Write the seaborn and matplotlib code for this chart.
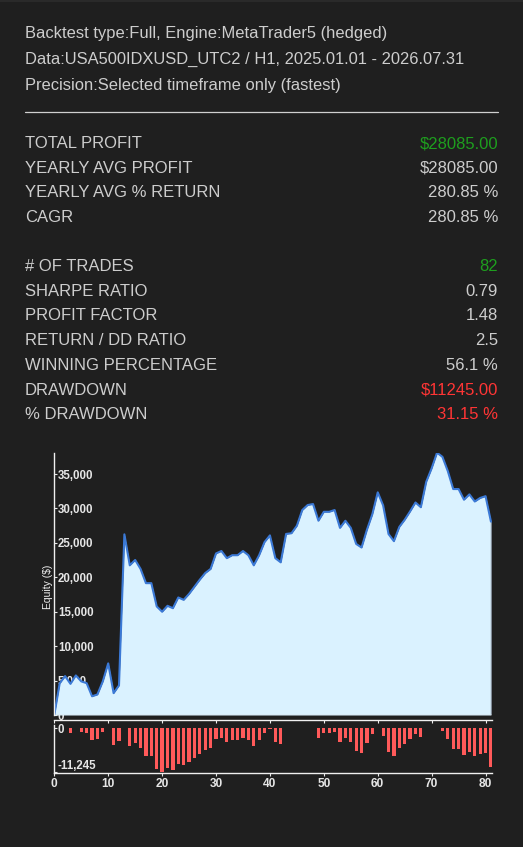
import matplotlib
matplotlib.use("Agg")
import numpy as np
import matplotlib.pyplot as plt
import seaborn as sns
from matplotlib.patches import Rectangle
from matplotlib.ticker import FuncFormatter

# ========= Data =========
header_lines = [
    "Backtest type:Full, Engine:MetaTrader5 (hedged)",
    "Data:USA500IDXUSD_UTC2 / H1, 2025.01.01 - 2026.07.31",
    "Precision:Selected timeframe only (fastest)",
]

profit_labels = ["TOTAL PROFIT", "YEARLY AVG PROFIT", "YEARLY AVG % RETURN", "CAGR"]
profit_values = ["$28085.00", "$28085.00", "280.85 %", "280.85 %"]

trade_labels = ["# OF TRADES", "SHARPE RATIO", "PROFIT FACTOR", "RETURN / DD RATIO",
                "WINNING PERCENTAGE", "DRAWDOWN", "% DRAWDOWN"]
trade_values = ["82", "0.79", "1.48", "2.5", "56.1 %", "$11245.00", "31.15 %"]

# equity curve, one point per closed trade (0 .. 81)
trade_no = np.arange(82)
equity = [
    0, 4600, 5650, 4525, 5750, 4885, 4625, 2720, 2980, 4885,
    7500, 3175, 4300, 26240, 21740, 22520, 21220, 19150, 19150, 15770,
    14995, 15860, 15510, 17070, 16725, 17590, 18630, 19665, 20620, 21220,
    23470, 23820, 22780, 23210, 23210, 23820, 23210, 21740, 23210, 25115,
    26090, 22780, 22175, 26300, 26400, 27490, 29770, 30500, 30640, 28220,
    29515, 29515, 29775, 27180, 28220, 27180, 24845, 24325, 26920, 29170,
    32340, 30440, 26285, 25250, 27320, 28360, 29570, 30870, 30180, 33880,
    35830, 38100, 37495, 35420, 32820, 32820, 31270, 32045, 31010, 31525,
    31785, 28085,
]

# drawdown bars under the curve
drawdown = [
    0, 0, 0, -1125, 0, -865, -1125, -3030, -2770, -865,
    0, -4325, -3200, 0, -4500, -3720, -5020, -7090, -7090, -10470,
    -11245, -10380, -10730, -9170, -9515, -8650, -7610, -6575, -5620, -5020,
    -2770, -2420, -3460, -3030, -3030, -2420, -3030, -4500, -3030, -1125,
    -150, -3460, -4065, 0, 0, 0, 0, 0, 0, -2420,
    -1125, -1125, -865, -3460, -2420, -3460, -5795, -6315, -3720, -1470,
    0, -1900, -6055, -7090, -5020, -3980, -2770, -1470, -2160, 0,
    0, 0, -605, -2680, -5280, -5280, -6830, -6055, -7090, -6575,
    -6315, -10015,
]

equity_ticks = [0, 5000, 10000, 15000, 20000, 25000, 30000, 35000]
dd_ticks = [0, -11245]
x_ticks = [0, 10, 20, 30, 40, 50, 60, 70, 80]

# ========= Style =========
BG = "#1f1f1f"
TXT = "#cdcdcd"
GREEN = "#1e9e1e"
RED = "#ff3535"
value_colors = {"TOTAL PROFIT": GREEN, "# OF TRADES": GREEN,
                "DRAWDOWN": RED, "% DRAWDOWN": RED}

sns.set_theme(style="dark", rc={"axes.facecolor": BG, "figure.facecolor": BG,
                                "axes.grid": False})
plt.rcParams["font.family"] = ["Liberation Sans", "DejaVu Sans"]

W, H = 523, 847
fig = plt.figure(figsize=(W / 100, H / 100), dpi=100)
# thin lighter strip along the top edge of the card
fig.add_artist(Rectangle((0, 1 - 2 / H), 1, 2 / H, transform=fig.transFigure,
                         color="#2a2a2a", lw=0))


def fy(px):
    # pixel row from the top -> figure fraction
    return 1 - px / H


# ========= Text block =========
for k, line in enumerate(header_lines):
    fig.text(25 / W, fy(33.5 + 26 * k), line, color=TXT, fontsize=11.9, va="center")

fig.add_artist(plt.Line2D([25 / W, 498 / W], [fy(112), fy(112)], color="#d0d0d0", lw=0.9))

row_step = 24.7
for start, labels, values in [(143.5, profit_labels, profit_values),
                              (266.5, trade_labels, trade_values)]:
    for k, (lab, val) in enumerate(zip(labels, values)):
        y = fy(start + row_step * k)
        fig.text(25 / W, y, lab, color=TXT, fontsize=12, va="center")
        fig.text(498 / W, y, val, color=value_colors.get(lab, TXT), fontsize=12,
                 va="center", ha="right")

# ========= Equity chart =========
x0, x1 = 54.3, 492.3
ax_eq = fig.add_axes([x0 / W, 1 - 715 / H, (x1 - x0) / W, (715 - 452.7) / H])
ax_eq.fill_between(trade_no, equity, 0, color="#daf2ff", lw=0)
ax_eq.vlines(trade_no[-1], 0, equity[-1], color="#7f8a96", lw=1)
ax_eq.axhline(0, color="#d8d8d8", lw=1)
sns.lineplot(x=trade_no, y=equity, ax=ax_eq, color="#3b79d6", lw=1.5)
ax_eq.set_xlim(0, 81.25)
ax_eq.set_ylim(0, max(equity))

for side in ["top", "right"]:
    ax_eq.spines[side].set_visible(False)
for side in ["left", "bottom"]:
    ax_eq.spines[side].set_color("#f0f0f0")
    ax_eq.spines[side].set_linewidth(1)
ax_eq.spines["bottom"].set_position(("outward", 3.6))

ax_eq.set_xticks(x_ticks)
ax_eq.set_xticklabels([])
ax_eq.tick_params(axis="x", direction="out", length=2.2, width=0.8, colors="#f0f0f0", bottom=True)
ax_eq.set_yticks(equity_ticks)
ax_eq.yaxis.set_major_formatter(FuncFormatter(lambda v, p: f"{int(v):,}"))
ax_eq.tick_params(axis="y", direction="in", length=2.2, width=0.8, pad=-2.6,
                  colors="#e6e6e6", labelsize=8.3, left=True)
for lab in ax_eq.get_yticklabels():
    lab.set_horizontalalignment("left")
    lab.set_fontweight("bold")
ax_eq.set_xlabel("")
ax_eq.set_ylabel("Equity ($)", color="#f0f0f0", fontsize=7.5)
ax_eq.yaxis.set_label_coords(-0.003, 0.49)

# ========= Drawdown bars =========
ax_dd = fig.add_axes([x0 / W, 1 - 773 / H, (x1 - x0) / W, (773 - 725) / H])
sns.barplot(x=trade_no, y=drawdown, native_scale=True, color="#ff5a5a",
            saturation=1, width=0.6, errorbar=None, linewidth=0, edgecolor="none", ax=ax_dd)
ax_dd.set_xlim(0, 81.25)
span = -min(drawdown)
ax_dd.set_ylim(-span * 1.03, span * 0.076)

for side in ["top", "right"]:
    ax_dd.spines[side].set_visible(False)
for side in ["left", "bottom"]:
    ax_dd.spines[side].set_color("#f0f0f0")
    ax_dd.spines[side].set_linewidth(1)

ax_dd.set_xticks(x_ticks)
ax_dd.tick_params(axis="x", direction="out", length=2.2, width=0.8, pad=1.5,
                  colors="#e6e6e6", labelsize=8.6, bottom=True)
for lab in ax_dd.get_xticklabels():
    lab.set_fontweight("bold")
ax_dd.set_yticks(dd_ticks)
ax_dd.yaxis.set_major_formatter(FuncFormatter(lambda v, p: f"{int(v):,}"))
ax_dd.tick_params(axis="y", direction="in", length=2.2, width=0.8, pad=-2.6,
                  colors="#e6e6e6", labelsize=8.3, left=True)
for lab in ax_dd.get_yticklabels():
    lab.set_horizontalalignment("left")
    lab.set_fontweight("bold")
ax_dd.get_yticklabels()[1].set_verticalalignment("bottom")
ax_dd.set_xlabel("")
ax_dd.set_ylabel("")

fig.savefig("out.png", dpi=100, facecolor=fig.get_facecolor())
